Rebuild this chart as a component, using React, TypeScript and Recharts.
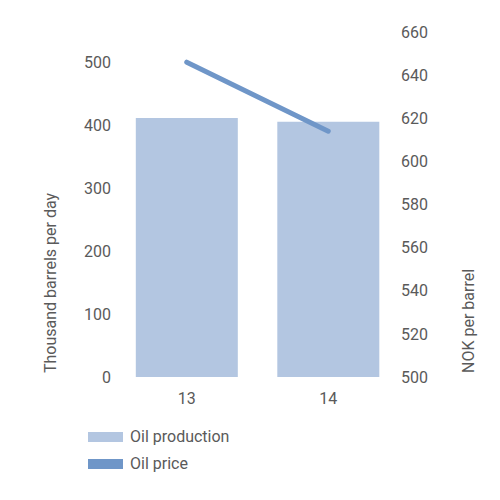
import React from 'react';
import { ComposedChart, Bar, Line, XAxis, YAxis } from 'recharts';

const years = ['13', '14'];
const oilProduction = [411, 405];
const oilPrice = [646, 614];
const leftTicks = [0, 100, 200, 300, 400, 500];
const rightTicks = [500, 520, 540, 560, 580, 600, 620, 640, 660];

const data = years.map((y, i) => ({ year: y, production: oilProduction[i], price: oilPrice[i] }));

const FONT = 'Roboto, sans-serif';
const TEXT = '#5a5a5a';
const BAR = '#b3c6e1';
const LINE = '#6f96c8';

const legendItems = [
  { name: 'Oil production', color: BAR },
  { name: 'Oil price', color: LINE },
];

export default function App() {
  return (
    <div style={{ position: 'absolute', left: 0, top: 0, width: 500, height: 500, background: '#fff', fontFamily: FONT }}>
      <ComposedChart width={500} height={500} data={data} margin={{ top: 32, right: 0, left: 0, bottom: 0 }} barCategoryGap="14%">
        <XAxis
          dataKey="year"
          axisLine={false}
          tickLine={false}
          tickSize={0}
          tickMargin={16}
          height={123}
          tick={{ fill: TEXT, fontSize: 16, fontFamily: FONT }}
        />
        <YAxis
          yAxisId="left"
          orientation="left"
          width={116}
          domain={[0, 547.6]}
          ticks={leftTicks}
          allowDataOverflow
          axisLine={false}
          tickLine={false}
          tickSize={0}
          tickMargin={5}
          tick={{ fill: TEXT, fontSize: 16, fontFamily: FONT }}
          label={{
            content: (props: any) => {
              const vb = props.viewBox;
              const x = vb.x + 56;
              const y = vb.y + vb.height - 4;
              return (
                <text x={x} y={y} transform={`rotate(-90 ${x} ${y})`} fill={TEXT} fontSize={16} fontFamily={FONT} textAnchor="start">
                  Thousand barrels per day
                </text>
              );
            },
          }}
        />
        <YAxis
          yAxisId="right"
          orientation="right"
          width={101}
          domain={[500, 660]}
          ticks={rightTicks}
          allowDataOverflow
          axisLine={false}
          tickLine={false}
          tickSize={0}
          tickMargin={2}
          tick={{ fill: TEXT, fontSize: 16, fontFamily: FONT }}
          label={{
            content: (props: any) => {
              const vb = props.viewBox;
              const x = vb.x + 75;
              const y = vb.y + vb.height - 4;
              return (
                <text x={x} y={y} transform={`rotate(-90 ${x} ${y})`} fill={TEXT} fontSize={16} fontFamily={FONT} textAnchor="start">
                  NOK per barrel
                </text>
              );
            },
          }}
        />
        <Bar yAxisId="left" dataKey="production" name="Oil production" fill={BAR} isAnimationActive={false} />
        <Line
          yAxisId="right"
          dataKey="price"
          name="Oil price"
          stroke={LINE}
          strokeWidth={5}
          strokeLinecap="round"
          dot={false}
          activeDot={false}
          isAnimationActive={false}
        />
      </ComposedChart>
      <div style={{ position: 'absolute', left: 88, top: 423 }}>
        {legendItems.map((it) => (
          <div key={it.name} style={{ display: 'flex', alignItems: 'center', height: 27 }}>
            <div style={{ width: 35, height: 10, background: it.color, marginRight: 7 }} />
            <span style={{ color: TEXT, fontSize: 16, lineHeight: '16px' }}>{it.name}</span>
          </div>
        ))}
      </div>
    </div>
  );
}
